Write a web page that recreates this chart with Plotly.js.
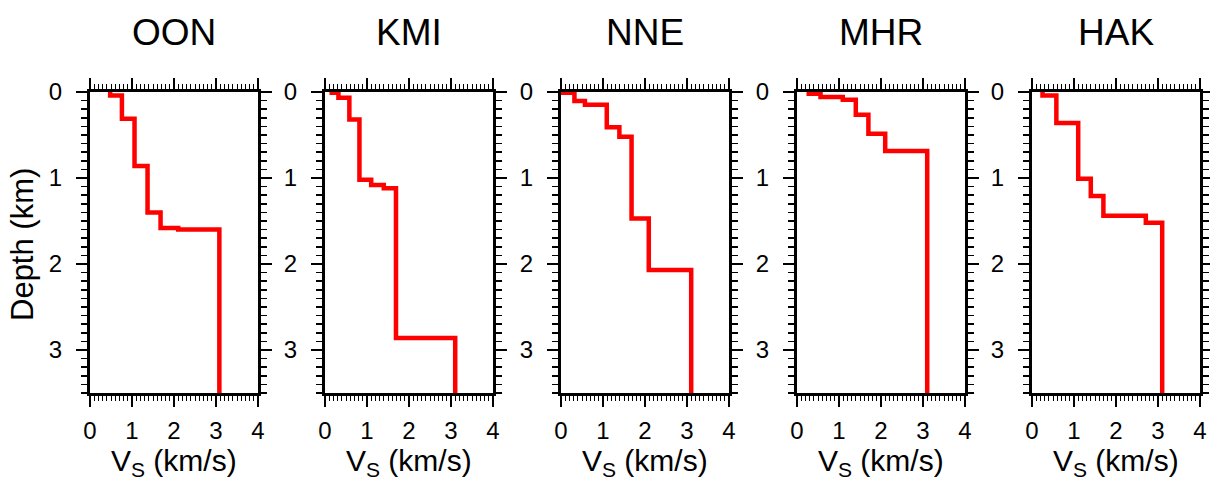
<!DOCTYPE html>
<html>
<head>
<meta charset="utf-8">
<script src="https://cdn.plot.ly/plotly-3.0.1.min.js"></script>
<style>
  html, body { margin: 0; padding: 0; background: #ffffff; }
  #chart { width: 1210px; height: 484px; }
</style>
</head>
<body>
<div id="chart"></div>
<script>
// Shear-wave velocity profiles (layered models) at five stations
const stations = ['OON', 'KMI', 'NNE', 'MHR', 'HAK'];

// Layer S-wave velocity (km/s) and layer top depth (km)
const oonVs  = [0.48, 0.76, 1.06, 1.37, 1.68, 2.10, 3.08];
const oonTop = [0.00, 0.04, 0.31, 0.86, 1.40, 1.58, 1.60];

const kmiVs  = [0.16, 0.32, 0.58, 0.82, 1.10, 1.40, 1.69, 3.10];
const kmiTop = [0.00, 0.01, 0.066, 0.32, 1.02, 1.08, 1.12, 2.86];

const nneVs  = [0.03, 0.32, 0.57, 1.09, 1.39, 1.68, 2.09, 3.10];
const nneTop = [0.00, 0.01, 0.105, 0.147, 0.41, 0.52, 1.47, 2.07];

const mhrVs  = [0.28, 0.56, 1.09, 1.40, 1.70, 2.10, 3.10];
const mhrTop = [0.00, 0.02, 0.058, 0.09, 0.264, 0.485, 0.686];

const hakVs  = [0.25, 0.58, 1.10, 1.40, 1.70, 2.71, 3.10];
const hakTop = [0.00, 0.04, 0.36, 1.01, 1.21, 1.44, 1.52];

const maxDepth = 3.5;
const vsRange = [0, 4];
const xTickVals = [0, 1, 2, 3, 4];
const yTickVals = [0, 1, 2, 3];

const profiles = [
  [oonVs, oonTop], [kmiVs, kmiTop], [nneVs, nneTop], [mhrVs, mhrTop], [hakVs, hakTop]
];

// Panel placement in pixels
const W = 1210, H = 484;
const panelLeft = [90, 325, 561, 797, 1032];
const panelWidth = 168;
const plotTop = 92, plotBottom = 393;

const FONT = 'Liberation Sans, Arial, Helvetica, sans-serif';

// Turn a layer model into a stepped polyline
function stepLine(vs, top) {
  const x = [], y = [];
  for (let i = 0; i < vs.length; i++) {
    const bottom = i + 1 < vs.length ? top[i + 1] : maxDepth;
    x.push(vs[i], vs[i]);
    y.push(top[i], bottom);
  }
  return { x, y };
}

const traces = [];
const layout = {
  width: W, height: H,
  margin: { l: 0, r: 0, t: 0, b: 0 },
  paper_bgcolor: '#ffffff',
  plot_bgcolor: '#ffffff',
  showlegend: false,
  font: { family: FONT, color: '#000000', size: 22 },
  annotations: []
};

const yDomain = [1 - plotBottom / H, 1 - plotTop / H];

profiles.forEach((p, i) => {
  const n = i + 1;
  const xa = n === 1 ? 'xaxis' : 'xaxis' + n;
  const ya = n === 1 ? 'yaxis' : 'yaxis' + n;
  const line = stepLine(p[0], p[1]);
  traces.push({
    x: line.x, y: line.y,
    xaxis: 'x' + (n === 1 ? '' : n),
    yaxis: 'y' + (n === 1 ? '' : n),
    type: 'scatter', mode: 'lines',
    line: { color: '#ff0000', width: 4.5, shape: 'linear' },
    hoverinfo: 'skip'
  });

  const x0 = panelLeft[i] / W, x1 = (panelLeft[i] + panelWidth) / W;
  layout[xa] = {
    domain: [x0, x1],
    anchor: 'y' + (n === 1 ? '' : n),
    range: vsRange,
    tickmode: 'array', tickvals: xTickVals,
    ticks: 'outside', ticklen: 11, tickwidth: 1.2, tickcolor: '#000',
    minor: { dtick: 0.1, tick0: 0, ticks: 'outside', ticklen: 5, tickwidth: 1, tickcolor: '#000' },
    showline: true, linewidth: 3, linecolor: '#000', mirror: 'allticks',
    showgrid: false, zeroline: false,
    tickfont: { family: FONT, size: 24, color: '#000' },
    ticklabelstandoff: 3,
    fixedrange: true
  };
  layout[ya] = {
    domain: yDomain,
    anchor: 'x' + (n === 1 ? '' : n),
    range: [maxDepth, 0],
    tickmode: 'array', tickvals: yTickVals,
    ticks: 'outside', ticklen: 11, tickwidth: 1.2, tickcolor: '#000',
    minor: { dtick: 0.1, tick0: 0, ticks: 'outside', ticklen: 6, tickwidth: 1.5, tickcolor: '#000' },
    showline: true, linewidth: 3, linecolor: '#000', mirror: 'allticks',
    showgrid: false, zeroline: false,
    tickfont: { family: FONT, size: 24, color: '#000' },
    ticklabelstandoff: 9,
    fixedrange: true
  };

  const cx = (x0 + x1) / 2;
  // Station name above each panel
  layout.annotations.push({
    text: stations[i], xref: 'paper', yref: 'paper',
    x: cx, y: 1 - 33 / H, xanchor: 'center', yanchor: 'middle',
    showarrow: false, font: { family: FONT, size: 37, color: '#000' }
  });
  // Velocity axis label below each panel
  layout.annotations.push({
    text: 'V<sub>S</sub> (km/s)', xref: 'paper', yref: 'paper',
    x: cx, y: 1 - 462 / H, xanchor: 'center', yanchor: 'middle',
    showarrow: false, font: { family: FONT, size: 30, color: '#000' }
  });
});

// Shared depth label on the left
layout.annotations.push({
  text: 'Depth (km)', xref: 'paper', yref: 'paper',
  x: 22 / W, y: 1 - 245 / H, xanchor: 'center', yanchor: 'middle',
  textangle: -90, showarrow: false, font: { family: FONT, size: 31, color: '#000' }
});

Plotly.newPlot('chart', traces, layout, { staticPlot: true, displayModeBar: false });
</script>
</body>
</html>
